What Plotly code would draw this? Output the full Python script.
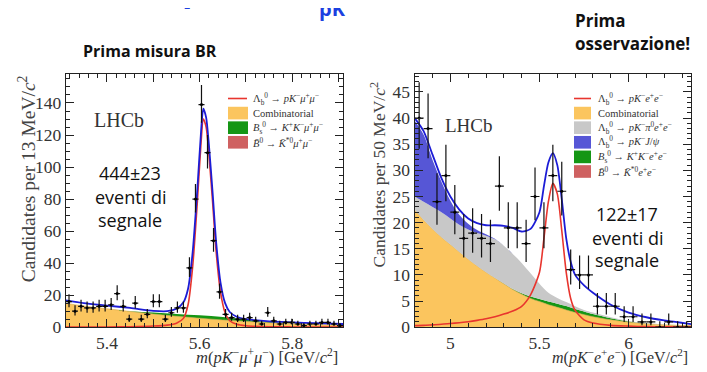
import numpy as np
import plotly.graph_objects as go

W, H = 707, 372
def px(x): return x / W
def py(y): return 1 - y / H

# ---------------- left panel: Lb -> p K mu mu ----------------
mu_bin_centers = [5.318, 5.331, 5.344, 5.357, 5.370, 5.383, 5.396, 5.409, 5.422, 5.435,
                  5.448, 5.461, 5.474, 5.487, 5.500, 5.513, 5.526, 5.539, 5.552, 5.565,
                  5.578, 5.591, 5.604, 5.617, 5.630, 5.643, 5.656, 5.669, 5.682, 5.695,
                  5.708, 5.721, 5.734, 5.747, 5.760, 5.773, 5.786, 5.799, 5.812, 5.825,
                  5.838, 5.851, 5.864, 5.877, 5.890, 5.903]
mu_counts = [16, 10, 13, 12, 12, 13, 13, 14, 21, 13,
             5, 15, 5, 8, 16, 16, 5, 9, 12, 12,
             37, 80, 139, 109, 54, 22, 8, 6, 5, 5,
             6, 4, 2, 9, 4, 2, 3, 3, 2, 1,
             2, 2, 3, 3, 2, 1]
mu_bin_half = 0.0065

mu_fit_x = [5.31, 5.35, 5.40, 5.45, 5.50, 5.53, 5.55, 5.565, 5.575, 5.585, 5.595, 5.603, 5.608,
            5.614, 5.62, 5.628, 5.636, 5.645, 5.655, 5.665, 5.68, 5.70, 5.75, 5.80, 5.85, 5.91]
mu_total = [16.8, 15.0, 13.5, 12.0, 10.2, 10.0, 11.5, 15.5, 24, 47, 86, 122, 136.5,
            131, 114, 84, 52, 28, 15, 9.5, 6.5, 5.0, 3.6, 3.0, 2.5, 2.0]
mu_signal = [0.05, 0.08, 0.1, 0.3, 0.7, 1.3, 2.5, 5.5, 14, 38, 78, 115, 130,
             125, 108, 78, 46, 22, 9, 4, 1.8, 0.9, 0.3, 0.15, 0.1, 0.05]

mu_bg_x = [5.31, 5.35, 5.40, 5.45, 5.50, 5.55, 5.60, 5.65, 5.70, 5.75, 5.80, 5.85, 5.91]
mu_comb_top = [15.0, 13.2, 11.5, 9.8, 8.2, 6.8, 5.6, 4.5, 3.6, 2.8, 2.2, 1.7, 1.3]
mu_bs_top = [15.0, 13.2, 11.5, 10.0, 9.1, 8.3, 7.4, 6.3, 4.6, 3.2, 2.3, 1.7, 1.3]

# ---------------- right panel: Lb -> p K e e ----------------
ee_bin_centers = [4.825, 4.875, 4.925, 4.975, 5.025, 5.075, 5.125, 5.175, 5.225, 5.275,
                  5.325, 5.375, 5.425, 5.475, 5.525, 5.575, 5.625, 5.675, 5.725, 5.775,
                  5.825, 5.875, 5.925, 5.975, 6.025, 6.075, 6.125, 6.175, 6.225, 6.275, 6.325]
ee_counts = [40, 38, 24, 29, 22, 17, 18, 17, 16, 27,
             19, 19, 16, 25, 19, 29, 26, 11, 10, 10,
             4, 4, 4, 2, 2, 1, 1, 0, 1, 0, 0]
ee_bin_half = 0.025

ee_bg_x = [4.80, 4.85, 4.90, 4.95, 5.00, 5.05, 5.10, 5.15, 5.20, 5.25, 5.30, 5.35, 5.40,
           5.45, 5.50, 5.55, 5.60, 5.65, 5.70, 5.75, 5.80, 5.90, 6.00, 6.10, 6.20, 6.35]
ee_comb_top = [22.4, 20.5, 18.8, 17.2, 15.8, 14.4, 13.0, 11.7, 10.5, 9.4, 8.3, 7.2, 6.3,
               5.5, 4.9, 4.3, 3.8, 3.3, 2.8, 2.4, 2.0, 1.4, 0.95, 0.65, 0.45, 0.3]
ee_bs_top = [22.4, 20.5, 18.8, 17.2, 15.8, 14.4, 13.0, 11.7, 10.5, 9.4, 8.35, 7.3, 6.5,
             5.85, 5.4, 4.9, 4.5, 4.05, 3.5, 3.0, 2.5, 1.7, 1.1, 0.7, 0.45, 0.3]
ee_pi0_top = [25.0, 24.0, 23.0, 22.0, 20.8, 19.6, 18.7, 18.0, 17.5, 16.8, 15.6, 14.0, 12.3,
              10.3, 8.3, 6.6, 5.6, 4.8, 4.0, 3.3, 2.8, 1.9, 1.2, 0.8, 0.5, 0.32]
ee_jpsi_top = [39.5, 36.8, 32.0, 27.8, 24.2, 21.5, 19.8, 18.6, 17.8, 16.9, 15.6, 14.0, 12.3,
               10.3, 8.3, 6.6, 5.6, 4.8, 4.0, 3.3, 2.8, 1.9, 1.2, 0.8, 0.5, 0.32]

ee_fit_x = [4.80, 4.85, 4.90, 4.95, 5.00, 5.05, 5.10, 5.15, 5.20, 5.25, 5.30, 5.35, 5.40,
            5.45, 5.50, 5.525, 5.55, 5.575, 5.60, 5.625, 5.65, 5.675, 5.70, 5.75, 5.80,
            5.90, 6.00, 6.10, 6.20, 6.35]
ee_total = [40.0, 37.5, 33.0, 28.5, 25.0, 22.5, 20.8, 19.9, 19.5, 19.5, 19.4, 19.0, 18.3,
            18.8, 22.0, 27.0, 31.5, 33.3, 31.0, 24.5, 17.0, 12.5, 10.0, 8.0, 6.6,
            4.3, 2.8, 1.9, 1.3, 0.6]
ee_signal = [0.3, 0.35, 0.45, 0.55, 0.7, 0.85, 1.05, 1.3, 1.6, 2.0, 2.5, 3.1, 4.0,
             6.2, 10.5, 17, 24, 27.5, 25.5, 18.5, 10.5, 5.5, 3.2, 1.4, 0.8,
             0.35, 0.2, 0.1, 0.07, 0.05]


def pois_err(counts):
    c = np.array(counts, dtype=float)
    up = 0.5 + np.sqrt(c + 0.25)
    lo = np.where(c > 0, -0.5 + np.sqrt(c + 0.25), 0)
    up = np.where(c > 0, up, 1.15)
    return up, lo


ORANGE = "#fbc55e"
GREEN = "#159615"
GREY = "#c8c8c8"
BLUEFILL = "#5656d6"
BLUE = "#1c1cd6"
RED = "#e8352e"
BROWNRED = "#cf6161"

fig = go.Figure()

# left fills
fig.add_trace(go.Scatter(x=mu_bg_x, y=mu_comb_top, mode="lines", line=dict(color="#d8aa48", width=0.6, shape="spline"),
                         fill="tozeroy", fillcolor=ORANGE, xaxis="x", yaxis="y", showlegend=False))
fig.add_trace(go.Scatter(x=mu_bg_x, y=mu_bs_top, mode="lines", line=dict(color=GREEN, width=0, shape="spline"),
                         fill="tonexty", fillcolor=GREEN, xaxis="x", yaxis="y", showlegend=False))
fig.add_trace(go.Scatter(x=mu_fit_x, y=mu_signal, mode="lines", line=dict(color=RED, width=1.6, shape="spline", smoothing=0.7),
                         xaxis="x", yaxis="y", showlegend=False))
fig.add_trace(go.Scatter(x=mu_fit_x, y=mu_total, mode="lines", line=dict(color=BLUE, width=1.8, shape="spline", smoothing=0.7),
                         xaxis="x", yaxis="y", showlegend=False))
up, lo = pois_err(mu_counts)
fig.add_trace(go.Scatter(x=mu_bin_centers, y=mu_counts, mode="markers",
                         marker=dict(color="black", size=3),
                         error_y=dict(type="data", array=up, arrayminus=lo, color="#111", thickness=1.2, width=0),
                         error_x=dict(type="constant", value=mu_bin_half, color="#111", thickness=1.2, width=0),
                         xaxis="x", yaxis="y", showlegend=False))

# right fills
fig.add_trace(go.Scatter(x=ee_bg_x, y=ee_comb_top, mode="lines", line=dict(color="#d8aa48", width=0.6, shape="spline"),
                         fill="tozeroy", fillcolor=ORANGE, xaxis="x2", yaxis="y2", showlegend=False))
fig.add_trace(go.Scatter(x=ee_bg_x, y=ee_bs_top, mode="lines", line=dict(color=GREEN, width=0, shape="spline"),
                         fill="tonexty", fillcolor=GREEN, xaxis="x2", yaxis="y2", showlegend=False))
fig.add_trace(go.Scatter(x=ee_bg_x, y=ee_pi0_top, mode="lines", line=dict(color=GREY, width=0, shape="spline"),
                         fill="tonexty", fillcolor=GREY, xaxis="x2", yaxis="y2", showlegend=False))
fig.add_trace(go.Scatter(x=ee_bg_x, y=ee_jpsi_top, mode="lines", line=dict(color=BLUEFILL, width=0, shape="spline"),
                         fill="tonexty", fillcolor=BLUEFILL, xaxis="x2", yaxis="y2", showlegend=False))
fig.add_trace(go.Scatter(x=ee_fit_x, y=ee_signal, mode="lines", line=dict(color=RED, width=1.6, shape="spline", smoothing=0.7),
                         xaxis="x2", yaxis="y2", showlegend=False))
fig.add_trace(go.Scatter(x=ee_fit_x, y=ee_total, mode="lines", line=dict(color=BLUE, width=1.8, shape="spline", smoothing=0.7),
                         xaxis="x2", yaxis="y2", showlegend=False))
up, lo = pois_err(ee_counts)
fig.add_trace(go.Scatter(x=ee_bin_centers, y=ee_counts, mode="markers",
                         marker=dict(color="black", size=3),
                         error_y=dict(type="data", array=up, arrayminus=lo, color="#111", thickness=1.2, width=0),
                         error_x=dict(type="constant", value=ee_bin_half, color="#111", thickness=1.2, width=0),
                         xaxis="x2", yaxis="y2", showlegend=False))

tickfont = dict(family="Liberation Serif", size=17.5, color="#333")
axcommon = dict(showline=True, mirror="allticks", linecolor="#222", linewidth=1.4, ticks="inside",
                tickcolor="#222", tickfont=tickfont, showgrid=False, zeroline=False)

fig.update_layout(
    width=W, height=H, margin=dict(l=0, r=0, t=0, b=0),
    paper_bgcolor="white", plot_bgcolor="white",
    xaxis=dict(domain=[px(58), px(335)], range=[5.3115, 5.9095], anchor="y",
               tickmode="array", tickvals=[5.4, 5.5, 5.6, 5.7, 5.8, 5.9], ticktext=["5.4", "", "5.6", "", "5.8", ""],
               ticklen=8, minor=dict(dtick=0.02, ticklen=4, ticks="inside", tickcolor="#222"), **axcommon),
    yaxis=dict(domain=[py(328), py(68)], range=[0, 158], anchor="x",
               tickmode="array", tickvals=[0, 20, 40, 60, 80, 100, 120, 140],
               ticklen=8, minor=dict(dtick=5, ticklen=4, ticks="inside", tickcolor="#222"), **axcommon),
    xaxis2=dict(domain=[px(406.7), px(683)], range=[4.8, 6.35], anchor="y2",
                tickmode="array", tickvals=[5, 5.5, 6],
                ticklen=8, minor=dict(dtick=0.1, ticklen=4, ticks="inside", tickcolor="#222"), **axcommon),
    yaxis2=dict(domain=[py(328), py(68)], range=[0, 48.4], anchor="x2",
                tickmode="array", tickvals=[0, 5, 10, 15, 20, 25, 30, 35, 40, 45],
                ticklen=8, minor=dict(dtick=1, ticklen=4, ticks="inside", tickcolor="#222"), **axcommon),
)

ann = []
shapes = []

def text(x, y, t, size, family="Liberation Serif", color="#333", xanchor="center", yanchor="middle", angle=0, align="center"):
    ann.append(dict(x=px(x), y=py(y), xref="paper", yref="paper", text=t, showarrow=False,
                    font=dict(family=family, size=size, color=color), xanchor=xanchor, yanchor=yanchor,
                    textangle=angle, align=align))

# top headings (cropped title pieces at the very top, as in the source slide)
text(324, 1, "<b>pK</b>", 20, family="Open Sans", color="#1b3fe0")
text(185, -21, "<b>p</b>", 34, family="Open Sans", color="#1b3fe0")
text(142, 44, "<b>Prima misura BR</b>", 16, family="Open Sans", color="#111")
text(565, 12.5, "<b>Prima</b>", 17, family="Open Sans", color="#111", xanchor="left")
text(565, 36.5, "<b>osservazione!</b>", 17, family="Open Sans", color="#111", xanchor="left")

# axis titles
text(19, 176, "Candidates per 13 MeV/<i>c</i><sup>2</sup>", 19.5, color="#444", angle=-90)
text(370, 172, "Candidates per 50 MeV/<i>c</i><sup>2</sup>", 17.5, color="#444", angle=-90)
text(332, 371, "<i>m</i>(<i>pK</i><sup>−</sup><i>μ</i><sup>+</sup><i>μ</i><sup>−</sup>) [GeV/<i>c</i><sup>2</sup>]",
     16.5, color="#333", xanchor="right", yanchor="bottom")
text(682, 371, "<i>m</i>(<i>pK</i><sup>−</sup><i>e</i><sup>+</sup><i>e</i><sup>−</sup>) [GeV/<i>c</i><sup>2</sup>]",
     16, color="#333", xanchor="right", yanchor="bottom")

# LHCb labels
text(111, 115, "LHCb", 20, color="#333")
text(461, 121, "LHCb", 19, color="#333")

# yields
text(122, 170, "444±23", 18, family="Open Sans", color="#111")
text(122, 194, "eventi di", 18, family="Open Sans", color="#111")
text(122, 218, "segnale", 18, family="Open Sans", color="#111")
text(619, 212, "122±17", 18, family="Open Sans", color="#111")
text(619, 236, "eventi di", 18, family="Open Sans", color="#111")
text(619, 259, "segnale", 18, family="Open Sans", color="#111")

# legends
def legend_row(x0, x1, xt, y, kind, color, label):
    if kind == "line":
        shapes.append(dict(type="line", xref="paper", yref="paper", x0=px(x0), x1=px(x1), y0=py(y), y1=py(y),
                           line=dict(color=color, width=1.6)))
    else:
        shapes.append(dict(type="rect", xref="paper", yref="paper", x0=px(x0), x1=px(x1), y0=py(y + 6.5), y1=py(y - 6.5),
                           fillcolor=color, line=dict(width=0)))
    text(xt, y, label, 10.5, color="#333", xanchor="left")

L = "Λ<sub>b</sub><sup>0</sup>"
legend_row(220, 239, 243, 93, "line", RED, L + " → <i>pK</i><sup>−</sup><i>μ</i><sup>+</sup><i>μ</i><sup>−</sup>")
legend_row(220, 240, 243, 108, "rect", ORANGE, "Combinatorial")
legend_row(220, 240, 243, 123, "rect", GREEN, "<i>B</i><sub>s</sub><sup>0</sup> → <i>K</i><sup>+</sup><i>K</i><sup>−</sup><i>μ</i><sup>+</sup><i>μ</i><sup>−</sup>")
legend_row(220, 240, 243, 138, "rect", BROWNRED, "<i>B̄</i><sup>0</sup> → <i>K̄</i><sup>*0</sup><i>μ</i><sup>+</sup><i>μ</i><sup>−</sup>")

legend_row(566, 583, 588, 93, "line", RED, L + " → <i>pK</i><sup>−</sup><i>e</i><sup>+</sup><i>e</i><sup>−</sup>")
legend_row(566, 583, 588, 108, "rect", ORANGE, "Combinatorial")
legend_row(566, 583, 588, 123, "rect", GREY, L + " → <i>pK</i><sup>−</sup><i>π</i><sup>0</sup><i>e</i><sup>+</sup><i>e</i><sup>−</sup>")
legend_row(566, 583, 588, 138, "rect", BLUEFILL, L + " → <i>pK</i><sup>−</sup><i>J</i>/<i>ψ</i>")
legend_row(566, 583, 588, 153, "rect", GREEN, "<i>B</i><sub>s</sub><sup>0</sup> → <i>K</i><sup>+</sup><i>K</i><sup>−</sup><i>e</i><sup>+</sup><i>e</i><sup>−</sup>")
legend_row(566, 583, 588, 168, "rect", BROWNRED, "<i>B̄</i><sup>0</sup> → <i>K̄</i><sup>*0</sup><i>e</i><sup>+</sup><i>e</i><sup>−</sup>")

fig.update_layout(annotations=ann, shapes=shapes)
fig.write_html("out.html")
